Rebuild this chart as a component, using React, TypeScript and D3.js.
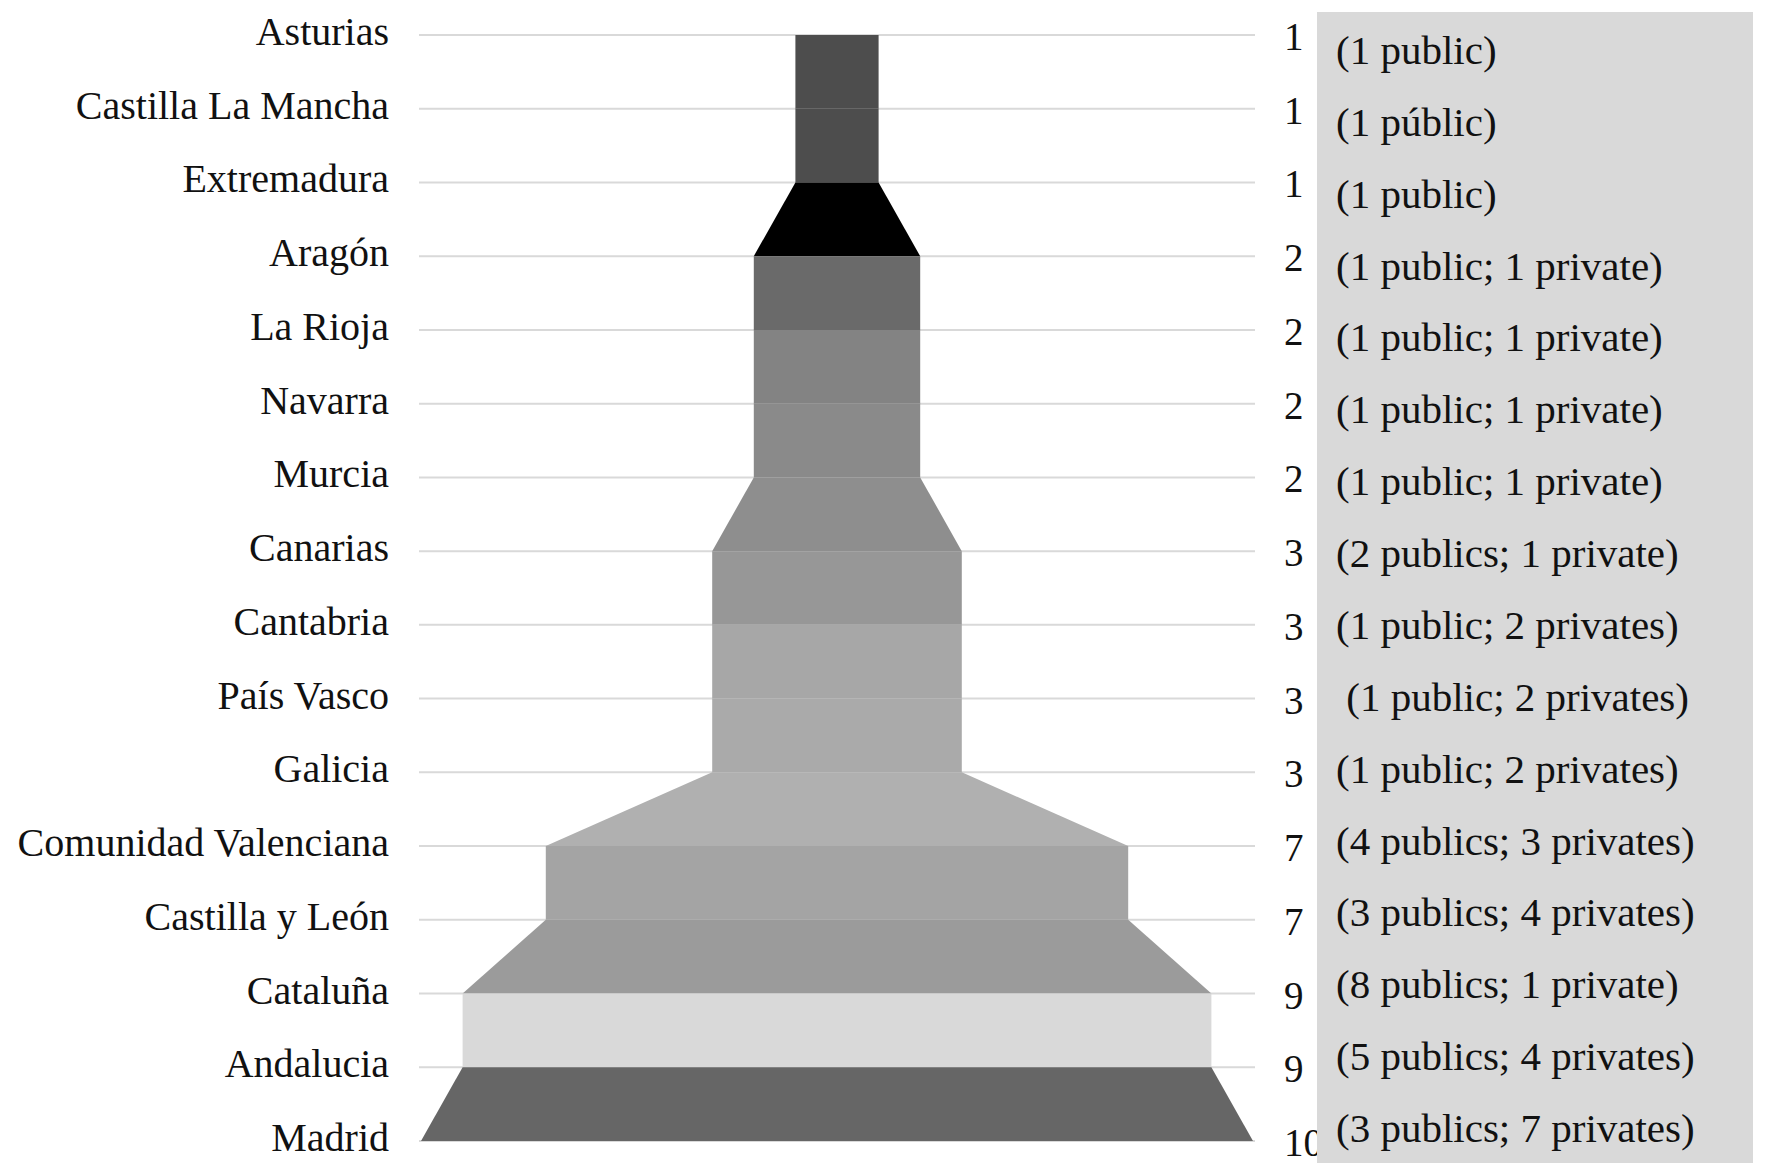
import * as d3 from 'd3'

const regions = [
  'Asturias', 'Castilla La Mancha', 'Extremadura', 'Aragón', 'La Rioja', 'Navarra', 'Murcia',
  'Canarias', 'Cantabria', 'País Vasco', 'Galicia', 'Comunidad Valenciana', 'Castilla y León',
  'Cataluña', 'Andalucia', 'Madrid',
]
const totals = [1, 1, 1, 2, 2, 2, 2, 3, 3, 3, 3, 7, 7, 9, 9, 10]
const breakdown = [
  '(1 public)', '(1 públic)', '(1 public)', '(1 public; 1 private)',
  '(1 public; 1 private)', '(1 public; 1 private)', '(1 public; 1 private)', '(2 publics; 1 private)',
  '(1 public; 2 privates)', ' (1 public; 2 privates)', '(1 public; 2 privates)',
  '(4 publics; 3 privates)', '(3 publics; 4 privates)', '(8 publics; 1 private)',
  '(5 publics; 4 privates)', '(3 publics; 7 privates)',
]
// one fill per band between two neighbouring regions
const bandColors = [
  '#4d4d4d', '#4d4d4d', '#000000', '#6a6a6a', '#838383', '#8a8a8a', '#8e8e8e',
  '#979797', '#a7a7a7', '#aaaaaa', '#b0b0b0', '#a4a4a4', '#9b9b9b', '#d9d9d9', '#666666',
]

const W = 1772
const H = 1175
const font = '"Liberation Serif", "Times New Roman", serif'

export default function App() {
  const y = d3.scalePoint<string>().domain(regions).range([35, 1141])
  const x = d3.scaleLinear().domain([-5, 5]).range([421, 1253])
  const noteY = d3.scalePoint<string>().domain(d3.range(regions.length).map(String)).range([64, 1142])

  const bands = d3.range(regions.length - 1).map((i) => {
    const y0 = y(regions[i])!
    const y1 = y(regions[i + 1])!
    const a = totals[i] / 2
    const b = totals[i + 1] / 2
    const p = d3.path()
    p.moveTo(x(-a), y0)
    p.lineTo(x(a), y0)
    p.lineTo(x(b), y1)
    p.lineTo(x(-b), y1)
    p.closePath()
    return {d: p.toString(), fill: bandColors[i]}
  })

  return (
    <svg width={W} height={H} style={{position: 'absolute', left: 0, top: 0, background: '#fff'}}>
      {/* grid lines */}
      {regions.map((r) => (
        <line key={'g' + r} x1={x(-5) - 2} x2={x(5) + 2} y1={y(r)} y2={y(r)} stroke="#d9d9d9" strokeWidth={2} />
      ))}

      {/* funnel bands */}
      {bands.map((b, i) => (
        <path key={'b' + i} d={b.d} fill={b.fill} />
      ))}

      {/* region labels */}
      {regions.map((r) => (
        <text key={'l' + r} x={389} y={y(r)! + 10} textAnchor="end" fontFamily={font} fontSize={40} fill="#111">
          {r}
        </text>
      ))}

      {/* totals */}
      {regions.map((r, i) => (
        <text key={'t' + r} x={1284} y={y(r)! + 15} fontFamily={font} fontSize={39} fill="#111">
          {totals[i]}
        </text>
      ))}

      {/* breakdown box */}
      <rect x={1317} y={12} width={436} height={1151} fill="#d9d9d9" />
      {breakdown.map((t, i) => (
        <text key={'n' + i} x={1336} y={noteY(String(i))} fontFamily={font} fontSize={41} fill="#111" style={{whiteSpace: 'pre'}}>
          {t}
        </text>
      ))}
    </svg>
  )
}
